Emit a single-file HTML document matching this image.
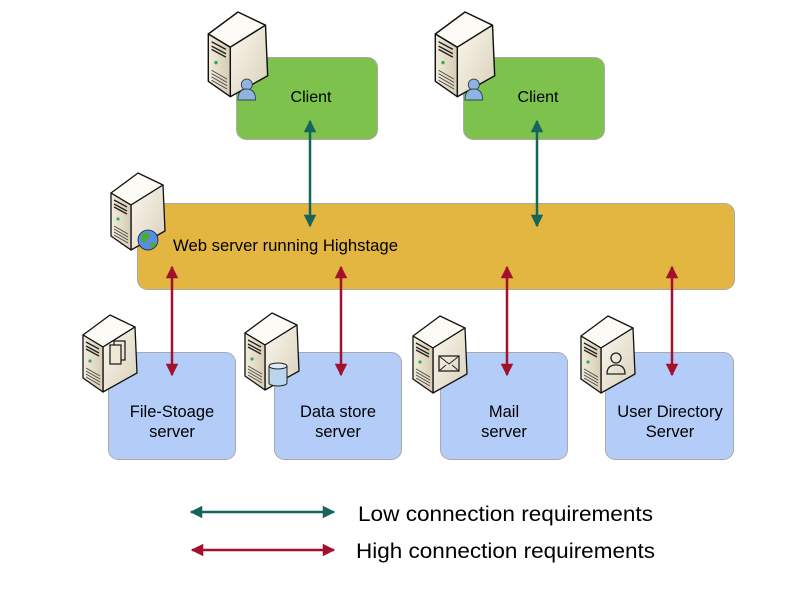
<!DOCTYPE html>
<html><head><meta charset="utf-8"><style>
html,body{margin:0;padding:0;background:#fff;}
svg{display:block;}
text{font-family:"Liberation Sans",Arial,sans-serif;fill:#000;}
</style></head><body>
<svg width="807" height="610" viewBox="0 0 807 610" xmlns="http://www.w3.org/2000/svg">
<defs>
<linearGradient id="side" x1="0" y1="0" x2="1" y2="1"><stop offset="0" stop-color="#fbf8f0"/><stop offset="1" stop-color="#d9d0b8"/></linearGradient>
<linearGradient id="front" x1="0" y1="0" x2="1" y2="0"><stop offset="0" stop-color="#f2ecdc"/><stop offset="1" stop-color="#d6ccb2"/></linearGradient>
<g id="srv">
 <polygon points="30,0 55,12 23,32 3,20" fill="#fdfbf5" stroke="#111" stroke-width="1.3" stroke-linejoin="round"/>
 <polygon points="23,32 55,12 57,58 23,77" fill="url(#side)" stroke="#111" stroke-width="1.3" stroke-linejoin="round"/>
 <polygon points="3,20 23,32 23,77 3,63" fill="url(#front)" stroke="#111" stroke-width="1.3" stroke-linejoin="round"/>
 <path d="M6,27 l13,7 M6,31 l13,7 M6,34 l13,7" stroke="#222" stroke-width="1.3"/>
 <circle cx="10" cy="46" r="1.6" fill="#3a6"/>
 <path d="M6,53 l14,8 M6,56 l14,8 M6,59 l14,8 M6,62 l14,8" stroke="#444" stroke-width="0.8"/>
</g>
<marker id="ta" viewBox="0 0 10 10" refX="9" refY="5" markerWidth="5.4" markerHeight="5" orient="auto-start-reverse"><path d="M0,0 L10,5 L0,10z" fill="#15655c"/></marker>
<marker id="ra" viewBox="0 0 10 10" refX="9" refY="5" markerWidth="5.4" markerHeight="5" orient="auto-start-reverse"><path d="M0,0 L10,5 L0,10z" fill="#a3102c"/></marker>
</defs>

<rect x="236.5" y="57.5" width="141" height="82" rx="10" fill="#7cc24c" stroke="#a9a9a9"/>
<rect x="463.5" y="57.5" width="141" height="82" rx="10" fill="#7cc24c" stroke="#a9a9a9"/>
<rect x="137.5" y="203.5" width="597" height="86" rx="10" fill="#e2b640" stroke="#a9a9a9"/>
<rect x="108.5" y="352.5" width="127" height="107" rx="10" fill="#b3cdf8" stroke="#a9a9a9"/>
<rect x="274.5" y="352.5" width="127" height="107" rx="10" fill="#b3cdf8" stroke="#a9a9a9"/>
<rect x="440.5" y="352.5" width="127" height="107" rx="10" fill="#b3cdf8" stroke="#a9a9a9"/>
<rect x="605.5" y="352.5" width="128" height="107" rx="10" fill="#b3cdf8" stroke="#a9a9a9"/>

<text x="311" y="102" font-size="16" text-anchor="middle">Client</text>
<text x="538" y="102" font-size="16" text-anchor="middle">Client</text>
<text x="173" y="251" font-size="16.5" textLength="225" lengthAdjust="spacingAndGlyphs">Web server running Highstage</text>
<text x="172" y="417" font-size="16.5" text-anchor="middle">File-Stoage</text>
<text x="172" y="437" font-size="16.5" text-anchor="middle">server</text>
<text x="338" y="417" font-size="16.5" text-anchor="middle">Data store</text>
<text x="338" y="437" font-size="16.5" text-anchor="middle">server</text>
<text x="504" y="417" font-size="16.5" text-anchor="middle">Mail</text>
<text x="504" y="437" font-size="16.5" text-anchor="middle">server</text>
<text x="670" y="417" font-size="16.5" text-anchor="middle">User Directory</text>
<text x="670" y="437" font-size="16.5" text-anchor="middle">Server</text>

<line x1="310" y1="121" x2="310" y2="226" stroke="#15655c" stroke-width="2.5" marker-start="url(#ta)" marker-end="url(#ta)"/>
<line x1="537" y1="121" x2="537" y2="226" stroke="#15655c" stroke-width="2.5" marker-start="url(#ta)" marker-end="url(#ta)"/>
<line x1="172" y1="267" x2="172" y2="375" stroke="#a3102c" stroke-width="2.5" marker-start="url(#ra)" marker-end="url(#ra)"/>
<line x1="341" y1="267" x2="341" y2="375" stroke="#a3102c" stroke-width="2.5" marker-start="url(#ra)" marker-end="url(#ra)"/>
<line x1="507" y1="267" x2="507" y2="375" stroke="#a3102c" stroke-width="2.5" marker-start="url(#ra)" marker-end="url(#ra)"/>
<line x1="672" y1="267" x2="672" y2="375" stroke="#a3102c" stroke-width="2.5" marker-start="url(#ra)" marker-end="url(#ra)"/>

<g transform="translate(205,12) scale(1.1)"><use href="#srv"/>
 <circle cx="38" cy="66" r="5" fill="#8fb4df" stroke="#345" stroke-width="0.8"/><path d="M30,80 q0,-10 8,-10 q8,0 8,10z" fill="#8fb4df" stroke="#345" stroke-width="0.8"/></g>
<g transform="translate(432,12) scale(1.1)"><use href="#srv"/>
 <circle cx="38" cy="66" r="5" fill="#8fb4df" stroke="#345" stroke-width="0.8"/><path d="M30,80 q0,-10 8,-10 q8,0 8,10z" fill="#8fb4df" stroke="#345" stroke-width="0.8"/></g>
<g transform="translate(108,173)"><use href="#srv"/>
 <circle cx="40" cy="67" r="10" fill="#5a8de0" stroke="#123" stroke-width="0.8"/><path d="M33,62 q5,-5 9,0 q-2,6 -6,8 q-4,-3 -3,-8z M42,70 q4,-2 6,2 q-2,4 -5,3z" fill="#4caa3a"/></g>
<g transform="translate(80,315)"><use href="#srv"/>
 <rect x="34" y="26" width="11" height="19" fill="none" stroke="#222" stroke-width="1.3"/><rect x="30" y="30" width="11" height="19" fill="#efe8d6" stroke="#222" stroke-width="1.3"/></g>
<g transform="translate(242,313)"><use href="#srv"/>
 <path d="M27,53 v17 a9,3 0 0 0 18,0 v-17" fill="#b9d6ee" stroke="#222" stroke-width="1"/><ellipse cx="36" cy="53" rx="9" ry="3" fill="#dcecf8" stroke="#222" stroke-width="1"/></g>
<g transform="translate(410,316)"><use href="#srv"/>
 <rect x="29" y="40" width="20" height="15" fill="none" stroke="#222" stroke-width="1.3"/><path d="M29,40 l10,8 l10,-8 M29,55 l7,-6 M49,55 l-7,-6" fill="none" stroke="#222" stroke-width="1"/></g>
<g transform="translate(578,316)"><use href="#srv"/>
 <circle cx="38" cy="42" r="5" fill="none" stroke="#222" stroke-width="1.3"/><path d="M29,58 q0,-9 9,-9 q9,0 9,9z" fill="none" stroke="#222" stroke-width="1.3"/></g>

<line x1="191" y1="512" x2="334" y2="512" stroke="#15655c" stroke-width="2.5" marker-start="url(#ta)" marker-end="url(#ta)"/>
<line x1="192" y1="550" x2="334" y2="550" stroke="#a3102c" stroke-width="2.5" marker-start="url(#ra)" marker-end="url(#ra)"/>
<text x="358" y="521" font-size="21" textLength="295" lengthAdjust="spacingAndGlyphs">Low connection requirements</text>
<text x="356" y="558" font-size="21" textLength="299" lengthAdjust="spacingAndGlyphs">High connection requirements</text>
</svg>
</body></html>
